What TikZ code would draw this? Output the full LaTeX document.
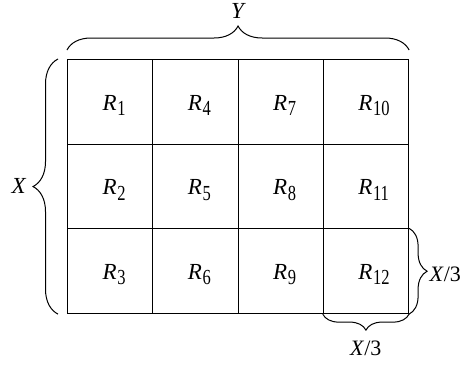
\documentclass[tikz,border=0pt]{standalone}
\usepackage{fontspec}
\setmainfont{Liberation Serif}
\usepackage{graphicx}
\usetikzlibrary{decorations.pathreplacing}
\newcommand\Rlab[1]{\textit{R}\kern0.5pt\raisebox{-5.5pt}{\scalebox{1}[1.3]{\fontsize{16.5}{16}\selectfont #1}}}
\newcommand\thirdX{\textit{X}/3}
\tikzset{
  cell/.style={draw, line width=1.1pt, minimum width=85.25pt, minimum height=84.67pt, inner sep=0pt},
  lbl/.style={inner sep=0pt, font=\fontsize{23}{26}\selectfont},
  dimlbl/.style={inner sep=0pt, font=\fontsize{22}{26}\selectfont},
  bracebig/.style={decorate, line width=1pt, decoration={brace, amplitude=#1}},
}
\begin{document}
\begin{tikzpicture}[x=1pt, y=-1pt]
\useasboundingbox (0,0) rectangle (462,364);
\foreach \i in {0,...,3} {
  \foreach \j in {0,1,2} {
    \pgfmathtruncatemacro\n{3*\i+\j+1}
    \node[cell, anchor=north west] (c\n) at ({67+85.25*\i},{59+84.67*\j}) {};
    \node[lbl, anchor=base west] (r\n) at ({67+85.25*\i+35.5},{59+84.67*\j+51}) {\Rlab{\n}};
  }
}
% braces
\draw[bracebig=24pt] ([yshift=9pt]c1.north west) -- ([yshift=9pt]c10.north east);
\draw[bracebig=25pt] ([xshift=-9pt]c3.south west) -- ([xshift=-9pt]c1.north west);
\draw[bracebig=18pt] (c12.north east) -- (c12.south east);
\draw[bracebig=16pt] (c12.south east) -- (c12.south west);
% labels
\node[lbl, anchor=base] (ylab) at (238.5,18.3) {\textit{Y}};
\node[lbl, anchor=base] (xlab) at (19,193.3) {\textit{X}};
\node[dimlbl, anchor=base west] (x3r) at (429.5,281.7) {\thirdX};
\node[dimlbl, anchor=base west] (x3b) at (350,355) {\thirdX};
\end{tikzpicture}
\end{document}
